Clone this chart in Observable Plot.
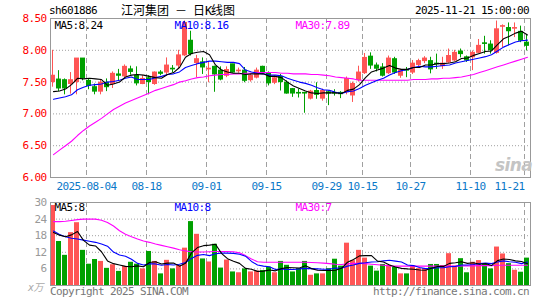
<!DOCTYPE html>
<html><head><meta charset="utf-8">
<script src="https://cdn.jsdelivr.net/npm/d3@7"></script>
<script src="https://cdn.jsdelivr.net/npm/@observablehq/plot@0.6"></script>
<style>
html,body{margin:0;padding:0;background:#fff;}
#wrap{position:relative;width:545px;height:300px;overflow:hidden;background:#fff;}
#wrap > svg{position:absolute;left:0;}
.t{position:absolute;font-family:"DejaVu Sans Mono",monospace;font-size:11px;line-height:12px;letter-spacing:-0.62px;white-space:pre;color:#000;}
.t .c{font-family:"Noto Sans CJK SC",sans-serif;letter-spacing:0;}
svg text{letter-spacing:-0.62px;}
</style></head><body><div id="wrap"></div>
<script>
// ---------- data ----------
const symbol = "sh601886";
const stockName = "江河集团";
const stamp = "2025-11-21 15:00:00";
const dates = [
"2025-07-25","2025-07-28","2025-07-29","2025-07-30","2025-07-31","2025-08-01",
"2025-08-04","2025-08-05","2025-08-06","2025-08-07","2025-08-08",
"2025-08-11","2025-08-12","2025-08-13","2025-08-14","2025-08-15",
"2025-08-18","2025-08-19","2025-08-20","2025-08-21","2025-08-22",
"2025-08-25","2025-08-26","2025-08-27","2025-08-28","2025-08-29",
"2025-09-01","2025-09-02","2025-09-03","2025-09-04","2025-09-05",
"2025-09-08","2025-09-09","2025-09-10","2025-09-11","2025-09-12",
"2025-09-15","2025-09-16","2025-09-17","2025-09-18","2025-09-19",
"2025-09-22","2025-09-23","2025-09-24","2025-09-25","2025-09-26",
"2025-09-29","2025-09-30","2025-10-09","2025-10-10",
"2025-10-13","2025-10-14","2025-10-15","2025-10-16","2025-10-17",
"2025-10-20","2025-10-21","2025-10-22","2025-10-23","2025-10-24",
"2025-10-27","2025-10-28","2025-10-29","2025-10-30","2025-10-31",
"2025-11-03","2025-11-04","2025-11-05","2025-11-06","2025-11-07",
"2025-11-10","2025-11-11","2025-11-12","2025-11-13","2025-11-14",
"2025-11-17","2025-11-18","2025-11-19","2025-11-20","2025-11-21"];
const tickDates = ["2025-08-04","2025-08-18","2025-09-01","2025-09-15","2025-09-29","2025-10-15","2025-10-27","2025-11-10","2025-11-21"];

const open = [7.50,7.54,7.53,7.47,7.50,7.87,7.52,7.42,7.35,7.49,
7.47,7.62,7.59,7.70,7.60,7.47,7.56,7.47,7.65,7.65,
7.71,7.76,7.92,8.15,7.80,7.81,7.70,7.74,7.68,7.60,
7.78,7.67,7.68,7.53,7.57,7.74,7.64,7.49,7.58,7.49,
7.39,7.33,7.33,7.24,7.36,7.24,7.34,7.33,7.33,7.34,
7.29,7.53,7.64,7.90,7.76,7.73,7.64,7.86,7.60,7.69,
7.65,7.77,7.83,7.83,7.79,7.75,7.81,7.84,7.98,7.89,
7.89,7.96,8.11,8.09,7.96,8.37,8.35,8.34,8.29,8.12];
const high = [8.00,7.68,7.55,7.65,7.87,7.87,7.55,7.47,7.54,7.55,
7.66,7.70,7.77,7.75,7.74,7.60,7.60,7.66,7.68,7.88,
7.76,8.00,8.46,8.30,7.92,7.88,7.81,7.75,7.74,7.74,
7.78,7.72,7.73,7.63,7.72,7.75,7.66,7.60,7.62,7.52,
7.40,7.39,7.34,7.37,7.49,7.39,7.36,7.38,7.35,7.58,
7.50,7.75,7.95,7.96,7.80,7.79,7.91,7.89,7.70,7.73,
7.84,7.86,7.90,7.89,7.94,7.89,8.02,8.00,8.02,7.91,
7.99,8.17,8.22,8.15,8.46,8.40,8.43,8.43,8.38,8.25];
const low = [7.42,7.35,7.30,7.31,7.30,7.52,7.38,7.30,7.30,7.35,
7.40,7.52,7.57,7.61,7.44,7.46,7.30,7.45,7.60,7.60,
7.65,7.70,7.90,7.91,7.57,7.62,7.49,7.34,7.52,7.57,
7.64,7.64,7.49,7.50,7.55,7.62,7.44,7.46,7.36,7.31,
7.26,7.25,7.01,7.22,7.23,7.20,7.13,7.28,7.24,7.30,
7.18,7.50,7.62,7.70,7.66,7.58,7.62,7.62,7.56,7.57,
7.62,7.73,7.79,7.63,7.70,7.70,7.79,7.82,7.88,7.81,
7.68,7.95,7.94,7.94,7.94,8.04,8.07,8.20,8.12,7.99];
const close = [7.60,7.40,7.40,7.53,7.87,7.56,7.44,7.35,7.49,7.42,
7.63,7.60,7.74,7.66,7.48,7.55,7.50,7.65,7.63,7.76,
7.70,7.92,8.43,7.94,7.86,7.73,7.71,7.62,7.54,7.69,
7.65,7.68,7.52,7.60,7.68,7.65,7.48,7.56,7.50,7.32,
7.32,7.32,7.32,7.35,7.30,7.36,7.32,7.32,7.31,7.55,
7.47,7.65,7.88,7.76,7.71,7.60,7.87,7.65,7.68,7.68,
7.79,7.83,7.87,7.70,7.78,7.79,7.91,7.96,7.94,7.84,
7.96,8.07,8.10,8.00,8.33,8.38,8.30,8.35,8.15,8.07];
const ma5 = [7.35,7.36,7.39,7.46,7.56,7.55,7.56,7.55,7.54,7.45,
7.47,7.50,7.58,7.61,7.62,7.61,7.59,7.57,7.56,7.62,
7.65,7.73,7.89,7.95,7.97,7.98,7.93,7.77,7.69,7.66,
7.64,7.64,7.62,7.63,7.63,7.63,7.59,7.59,7.57,7.50,
7.44,7.40,7.36,7.33,7.32,7.33,7.33,7.33,7.32,7.37,
7.39,7.46,7.57,7.66,7.69,7.72,7.76,7.72,7.70,7.70,
7.73,7.73,7.77,7.77,7.79,7.79,7.80,7.82,7.87,7.88,
7.92,7.95,7.98,7.99,8.09,8.18,8.22,8.27,8.30,8.24];
const ma10 = [7.23,7.25,7.27,7.30,7.38,7.42,7.45,7.46,7.47,7.50,
7.51,7.53,7.56,7.58,7.54,7.54,7.54,7.57,7.59,7.62,
7.63,7.66,7.73,7.76,7.79,7.81,7.83,7.83,7.82,7.81,
7.81,7.79,7.69,7.66,7.64,7.63,7.61,7.61,7.60,7.56,
7.53,7.50,7.48,7.45,7.41,7.38,7.37,7.34,7.32,7.35,
7.36,7.40,7.45,7.49,7.53,7.56,7.61,7.65,7.68,7.70,
7.73,7.75,7.74,7.74,7.75,7.76,7.77,7.80,7.82,7.84,
7.86,7.88,7.90,7.93,7.99,8.05,8.09,8.13,8.15,8.16];
const ma30 = [6.36,6.43,6.50,6.57,6.66,6.74,6.81,6.87,6.93,7.00,
7.07,7.12,7.17,7.21,7.25,7.29,7.33,7.37,7.40,7.43,
7.46,7.50,7.52,7.55,7.57,7.58,7.60,7.61,7.62,7.62,
7.63,7.63,7.64,7.64,7.65,7.65,7.65,7.65,7.64,7.64,
7.63,7.63,7.63,7.62,7.62,7.61,7.60,7.58,7.57,7.56,
7.55,7.53,7.53,7.53,7.53,7.53,7.53,7.53,7.53,7.53,
7.54,7.54,7.54,7.55,7.55,7.56,7.56,7.57,7.58,7.60,
7.62,7.65,7.68,7.71,7.74,7.77,7.80,7.83,7.86,7.89];
const volume = [28.9,15.9,10.9,19.1,22.7,12.7,7.7,9.4,8.7,6.2,
7.5,5.1,6.9,8.4,7.7,6.0,12.3,8.7,4.2,9.1,
6.0,7.2,13.5,23.1,18.5,9.6,8.5,14.9,6.3,9.2,
4.9,4.6,6.0,4.9,5.2,5.4,6.6,4.6,8.7,7.3,
4.9,6.1,8.7,3.7,4.2,4.2,6.1,9.5,7.0,15.3,
9.0,12.7,9.9,7.0,5.2,7.6,7.3,6.6,4.2,4.2,
7.0,6.1,6.1,7.6,7.6,7.2,11.5,7.0,9.7,4.6,
8.4,9.0,7.9,6.0,13.9,11.4,7.9,5.5,4.8,9.9];
const vma5 = [19.2,18.2,17.6,18.3,19.5,16.3,14.6,14.3,12.2,8.9,
7.9,7.4,6.9,6.8,7.1,6.8,8.3,8.6,7.8,8.1,
8.1,7.0,8.0,11.8,13.7,14.4,14.6,14.9,11.6,9.7,
8.8,8.0,6.2,5.9,5.1,5.2,5.6,5.3,6.1,6.5,
6.4,6.3,7.1,6.1,5.5,5.4,5.4,5.5,6.2,8.4,
9.4,10.7,10.8,10.8,8.8,8.5,7.4,6.7,6.2,6.0,
5.9,5.6,5.5,6.2,6.9,6.9,8.0,8.2,8.6,8.0,
8.2,7.7,7.9,7.2,9.0,9.6,9.4,8.9,8.7,7.9];
const vma10 = [19.7,18.4,17.6,17.1,16.8,16.4,16.0,15.6,15.0,14.2,
12.1,11.0,10.6,9.5,8.0,7.4,7.8,7.8,7.3,7.6,
7.4,7.7,8.3,9.8,10.9,11.2,10.8,11.5,11.7,11.7,
11.6,11.3,10.6,8.7,7.4,7.0,6.8,5.8,6.0,5.8,
5.8,6.0,6.2,6.1,6.0,5.9,5.9,6.3,6.2,7.0,
7.4,8.0,8.2,8.5,8.6,8.9,9.1,8.8,8.5,7.4,
7.2,6.5,6.1,6.2,6.4,6.4,6.8,6.9,7.4,7.4,
7.6,7.9,8.1,7.9,8.5,8.9,8.6,8.4,7.9,8.5];
const vma30 = [23.1,23.1,23.2,23.5,23.8,24.0,24.0,24.0,23.6,22.8,
21.5,19.8,18.5,17.6,16.8,16.1,15.6,15.0,14.5,14.0,
13.5,12.9,12.5,12.2,12.1,12.1,12.2,12.3,12.3,12.3,
12.2,11.8,10.8,9.6,8.6,8.4,8.4,8.4,8.4,8.4,
8.4,8.4,8.4,8.3,8.2,8.1,7.9,7.7,7.6,7.8,
8.0,8.0,7.9,7.7,7.5,7.3,7.1,7.0,7.0,7.0,
7.0,7.0,7.0,7.0,7.0,7.0,7.0,7.0,7.1,7.1,
7.1,7.2,7.2,7.2,7.3,7.3,7.3,7.3,7.3,7.3];
const maNames = ["MA5","MA10","MA30"];
const priceMaLast = ["8.24","8.16","7.89"];
const volMaLast = ["8","8","7"];
const priceTicks = [6.0,6.5,7.0,7.5,8.0,8.5];
const volTicks = [6,12,18,24,30];
const volUnit = "x万";
const copyright = "Copyright 2025 SINA.COM";
const siteUrl = "http://finance.sina.com.cn";
const watermark = "sina";

// ---------- build ----------
const rows = dates.map((d, i) => ({i, date: d, open: open[i], high: high[i], low: low[i], close: close[i],
  vol: volume[i], ma5: ma5[i], ma10: ma10[i], ma30: ma30[i], vma5: vma5[i], vma10: vma10[i], vma30: vma30[i]}));
const up = d => d.close >= d.open;
const dn = d => d.close < d.open;
const RED = "#ff5555", GREEN = "#00a000", GRID = "#a0a0a0", BORDER = "#999";
const maColors = ["#000000", "#0000ff", "#ff00ff"];
const maDx = [4, 124, 245];
const tickIdx = tickDates.map(t => dates.indexOf(t));
const lastIdx = dates.length - 1;
const tickLabel = i => (i === tickIdx[0] ? dates[i] : dates[i].slice(5));
const FONT = "DejaVu Sans Mono, Noto Sans CJK SC, monospace";
const xDomain = [-0.5, dates.length - 0.5];

const wrap = document.getElementById("wrap");

const price = Plot.plot({
  width: 545, height: 195,
  marginLeft: 50, marginRight: 15, marginTop: 18, marginBottom: 18,
  x: {domain: xDomain, axis: null},
  y: {domain: [6, 8.5], axis: null},
  style: {fontFamily: FONT, fontSize: "11px", background: "transparent", overflow: "visible"},
  marks: [
    Plot.ruleY(priceTicks.slice(1, -1), {stroke: GRID, strokeDasharray: "1,2"}),
    Plot.ruleX(tickIdx, {x: d => d - 0.5, stroke: GRID, strokeDasharray: "5,3"}),
    Plot.ruleX(rows, {filter: up, x: "i", y1: "low", y2: "high", stroke: RED, dx: -1}),
    Plot.ruleX(rows, {filter: dn, x: "i", y1: "low", y2: "high", stroke: GREEN, dx: -1}),
    Plot.rect(rows, {filter: up, x1: d => d.i - 0.5, x2: d => d.i + 0.5, y1: d => Math.min(d.open, d.close), y2: d => Math.max(d.open, d.close), insetRight: 1, insetTop: -0.5, insetBottom: -0.5, fill: RED}),
    Plot.rect(rows, {filter: dn, x1: d => d.i - 0.5, x2: d => d.i + 0.5, y1: d => Math.min(d.open, d.close), y2: d => Math.max(d.open, d.close), insetRight: 1, insetTop: -0.5, insetBottom: -0.5, fill: GREEN}),
    Plot.line(rows, {x: "i", y: "ma30", stroke: maColors[2], strokeWidth: 1.1}),
    Plot.line(rows, {x: "i", y: "ma10", stroke: maColors[1], strokeWidth: 1.1}),
    Plot.line(rows, {x: "i", y: "ma5", stroke: maColors[0], strokeWidth: 1.1}),
    Plot.frame({stroke: BORDER}),
    Plot.axisY(priceTicks, {anchor: "left", tickSize: 0, tickPadding: 4, fill: "#ff0000", tickFormat: d => d.toFixed(2), label: null}),
    Plot.text(tickIdx.filter(i => i !== lastIdx), {x: d => d - 0.5, frameAnchor: "bottom", dy: 9, text: tickLabel, fill: "#0a78c8", textAnchor: "middle", lineAnchor: "middle"}),
    Plot.text(tickIdx.filter(i => i === lastIdx), {x: d => d - 0.5, frameAnchor: "bottom", dy: 9, text: tickLabel, fill: "#0a78c8", textAnchor: "end", lineAnchor: "middle"}),
    ...maNames.map((n, k) => Plot.text([n + ":" + priceMaLast[k]], {frameAnchor: "top-left", dx: maDx[k], dy: 7, text: d => d, fill: maColors[k], textAnchor: "start", lineAnchor: "middle"})),
    Plot.text([watermark], {frameAnchor: "bottom-right", dx: -17, dy: -12, text: d => d, fill: "#c4c4c4", fontSize: 17, fontWeight: "bold", fontStyle: "italic", fontFamily: "DejaVu Sans", textAnchor: "middle", lineAnchor: "middle"})
  ]
});
price.style.top = "0px";
wrap.append(price);

const vol = Plot.plot({
  width: 545, height: 105,
  marginLeft: 50, marginRight: 15, marginTop: 7, marginBottom: 15,
  x: {domain: xDomain, axis: null},
  y: {domain: [0, 30], axis: null},
  style: {fontFamily: FONT, fontSize: "11px", background: "transparent", overflow: "visible"},
  marks: [
    Plot.ruleY(volTicks.slice(0, -1), {stroke: GRID, strokeDasharray: "1,2"}),
    Plot.ruleX(tickIdx, {x: d => d - 0.5, stroke: GRID, strokeDasharray: "5,3"}),
    Plot.rect(rows, {filter: up, x1: d => d.i - 0.5, x2: d => d.i + 0.5, y1: 0, y2: "vol", insetRight: 1, fill: RED}),
    Plot.rect(rows, {filter: dn, x1: d => d.i - 0.5, x2: d => d.i + 0.5, y1: 0, y2: "vol", insetRight: 1, fill: GREEN}),
    Plot.line(rows, {x: "i", y: "vma30", stroke: maColors[2], strokeWidth: 1.1}),
    Plot.line(rows, {x: "i", y: "vma10", stroke: maColors[1], strokeWidth: 1.1}),
    Plot.line(rows, {x: "i", y: "vma5", stroke: maColors[0], strokeWidth: 1.1}),
    Plot.frame({stroke: BORDER}),
    Plot.axisY(volTicks, {anchor: "left", tickSize: 0, tickPadding: 4, fill: "#999", tickFormat: d => String(d), label: null}),
    Plot.text([volUnit], {frameAnchor: "bottom-left", dx: -15, dy: 2, text: d => d, fill: "#aaa", fontSize: 10, fontStyle: "italic", textAnchor: "middle", lineAnchor: "middle"}),
    ...maNames.map((n, k) => Plot.text([n + ":" + volMaLast[k]], {frameAnchor: "top-left", dx: maDx[k], dy: 4.5, text: d => d, fill: maColors[k], textAnchor: "start", lineAnchor: "middle"}))
  ]
});
vol.style.top = "195px";
wrap.append(vol);

// header / footer text
function addText(html, css) {
  const el = document.createElement("div");
  el.className = "t";
  el.innerHTML = html;
  Object.assign(el.style, css);
  wrap.append(el);
  return el;
}
addText(symbol, {left: "49px", top: "5px"});
addText('<span class="c">' + stockName + '</span> <span class="c">－</span> <span class="c">日</span>K<span class="c">线图</span>',
  {left: "121px", top: "3px", fontSize: "12px", letterSpacing: "-1.22px", lineHeight: "14px"});
addText(stamp, {right: "16px", top: "5px"});
addText(copyright, {left: "50px", top: "286px", color: "#777"});
addText(siteUrl, {right: "16px", top: "286px", color: "#777"});
</script>
</body></html>
